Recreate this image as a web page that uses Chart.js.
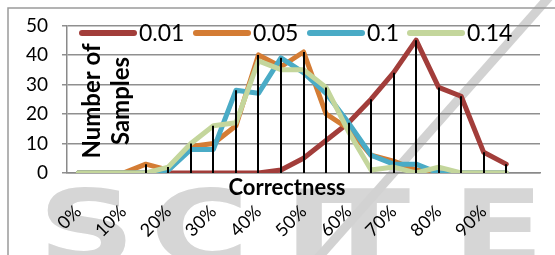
<!DOCTYPE html>
<html lang="en">
<head>
    <meta charset="UTF-8">
    <title>Correctness</title>
    <script src="https://cdn.jsdelivr.net/npm/chart.js"></script>
    <style>
        body {
            margin: 0;
            background: #fff;
        }
        #wrap {
            width: 555px;
            height: 255px;
        }
    </style>
</head>
<body>

<div id="wrap"><canvas id="myChart" width="555" height="255"></canvas></div>

<script>
    // categorias do eixo x (0% .. 100%, passo 5%)
    const categories = ['0%', '5%', '10%', '15%', '20%', '25%', '30%', '35%', '40%', '45%', '50%',
        '55%', '60%', '65%', '70%', '75%', '80%', '85%', '90%', '95%', '100%'];
    // só estes aparecem no eixo
    const tickLabels = ['0%', '10%', '20%', '30%', '40%', '50%', '60%', '70%', '80%', '90%'];

    const seriesNames = ['0.01', '0.05', '0.1', '0.14'];
    const seriesColors = ['#a23d3a', '#d47c34', '#4aabc6', '#c4d69c'];

    const s001 = [0, 0, 0, 0, 0, 0, 0, 0, 0, 1, 5, 11, 17, 25, 34, 45, 29, 26, 7, 3];
    const s005 = [0, 0, 0, 3, 1, 9, 10, 16, 40, 36, 41, 20, 15, 6, 4, 1, 0, 0, 0, 0];
    const s01 = [0, 0, 0, 0, 1, 8, 8, 28, 27, 39, 34, 27, 17, 6, 3, 3, 0, 0, 0, 0];
    const s014 = [0, 0, 0, 0, 2, 10, 16, 17, 38, 35, 35, 29, 14, 1, 2, 0, 2, 0, 0, 0];

    const yTicks = [0, 10, 20, 30, 40, 50];
    const yTitle = ['Number of', 'Samples'];
    const xTitle = 'Correctness';

    const FONT = 'Lato, "Open Sans", sans-serif';

    // marca de água + moldura (por trás de tudo)
    const background = {
        id: 'background',
        beforeDraw(chart) {
            const ctx = chart.ctx;
            ctx.save();
            ctx.fillStyle = '#fff';
            ctx.fillRect(0, 0, chart.width, chart.height);
            ctx.fillStyle = '#d6d6d6';
            ctx.font = 'bold 104px "DejaVu Sans", sans-serif';
            ctx.textBaseline = 'alphabetic';
            const marks = [['S', 38], ['C', 150], ['I', 284], ['T', 318], ['E', 452]];
            marks.forEach(([ch, px]) => {
                ctx.save();
                ctx.translate(px, 264);
                ctx.scale(1.3, 1);
                ctx.fillText(ch, 0, 0);
                ctx.restore();
            });
            ctx.strokeStyle = '#d2d2d2';
            ctx.lineWidth = 9;
            ctx.beginPath();
            ctx.moveTo(550, -4);
            ctx.lineTo(318, 258);
            ctx.stroke();
            ctx.strokeStyle = '#9a9a9a';
            ctx.lineWidth = 1.5;
            ctx.strokeRect(8, 8, chart.width + 10, chart.height + 10);
            ctx.restore();
        }
    };

    // linhas verticais (drop lines) e legenda/títulos por cima
    const overlay = {
        id: 'overlay',
        afterDatasetsDraw(chart) {
            const ctx = chart.ctx;
            const x = chart.scales.x, y = chart.scales.y;
            const sets = chart.data.datasets;
            ctx.save();
            ctx.strokeStyle = '#000';
            ctx.lineWidth = 2;
            for (let i = 0; i < s001.length; i++) {
                const top = Math.max(...sets.map(d => d.data[i] || 0));
                if (top <= 0) continue;
                const px = Math.round(x.getPixelForValue(i));
                ctx.beginPath();
                ctx.moveTo(px, y.getPixelForValue(top));
                ctx.lineTo(px, y.getPixelForValue(0));
                ctx.stroke();
            }

            // legenda
            ctx.font = '23px ' + FONT;
            ctx.textBaseline = 'middle';
            ctx.textAlign = 'left';
            ctx.lineCap = 'round';
            const swatchX = [82, 196, 310, 410];
            const ly = 33;
            seriesNames.forEach((name, k) => {
                const lx = swatchX[k];
                ctx.strokeStyle = seriesColors[k];
                ctx.lineWidth = 6;
                ctx.beginPath();
                ctx.moveTo(lx, ly);
                ctx.lineTo(lx + 52, ly);
                ctx.stroke();
                ctx.fillStyle = '#000';
                ctx.fillText(name, lx + 57, ly + 1);
            });

            // títulos dos eixos
            ctx.fillStyle = '#000';
            ctx.font = 'bold 22px ' + FONT;
            ctx.textAlign = 'center';
            ctx.fillText(xTitle, 287, 188);
            ctx.font = 'bold 24px ' + FONT;
            ctx.translate(92, 101);
            ctx.rotate(-Math.PI / 2);
            ctx.fillText(yTitle[0], 0, 0);
            ctx.fillText(yTitle[1], 0, 29);
            ctx.restore();
        }
    };

    const datasets = [s001, s005, s01, s014].map((d, k) => ({
        label: seriesNames[k],
        data: d,
        borderColor: seriesColors[k],
        backgroundColor: seriesColors[k],
        borderWidth: 5,
        pointRadius: 0,
        tension: 0,
        borderJoinStyle: 'round',
        borderCapStyle: 'round',
        order: 4 - k
    }));

    new Chart(document.getElementById('myChart'), {
        type: 'line',
        data: { labels: categories, datasets: datasets },
        plugins: [background, overlay],
        options: {
            responsive: false,
            animation: false,
            layout: { padding: { top: 22, right: 15, left: 0, bottom: 0 } },
            plugins: {
                legend: { display: false },
                tooltip: { enabled: false }
            },
            scales: {
                x: {
                    offset: true,
                    grid: { display: false, drawTicks: false },
                    border: { color: '#8a8a8a', width: 1.5 },
                    afterFit(scale) {
                        scale.height = 82;
                        scale.paddingLeft = 0;
                        scale.paddingRight = 0;
                    },
                    ticks: {
                        autoSkip: false,
                        minRotation: 45,
                        maxRotation: 45,
                        padding: 28,
                        color: '#000',
                        font: { family: FONT, size: 18 },
                        callback: (v, i) => tickLabels.includes(categories[i]) ? categories[i] : ''
                    }
                },
                y: {
                    min: 0,
                    max: 50,
                    afterFit(scale) { scale.width = 67; },
                    afterBuildTicks(scale) { scale.ticks = yTicks.map(v => ({ value: v })); },
                    grid: { color: '#8f8f8f', lineWidth: 1.5, tickLength: 5 },
                    border: { color: '#8a8a8a', width: 1.5 },
                    ticks: {
                        padding: 14,
                        color: '#000',
                        font: { family: FONT, size: 19 }
                    }
                }
            }
        }
    });
</script>

</body>
</html>
